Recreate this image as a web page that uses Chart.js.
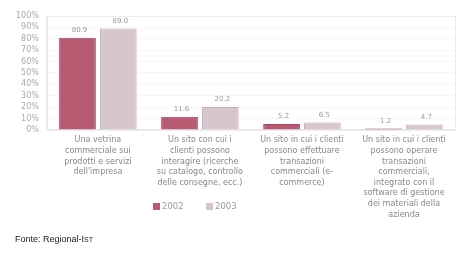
<!DOCTYPE html>
<html><head><meta charset="utf-8">
<script src="https://cdn.jsdelivr.net/npm/chart.js@4/dist/chart.umd.min.js"></script>
<style>
html,body{margin:0;padding:0;background:#fff;}
#wrap{position:relative;width:474px;height:260px;}
#c{position:absolute;left:0;top:0;}
.leg{position:absolute;top:201px;font:8.5px "DejaVu Sans",sans-serif;color:#999;}
.sw{display:inline-block;width:7px;height:7px;margin-right:2px;vertical-align:-1px;}
#src{position:absolute;left:15px;top:234px;font:9px "Liberation Sans",Arial,sans-serif;color:#222;}
</style></head><body>
<div id="wrap">
<canvas id="c" width="474" height="225"></canvas>
<div class="leg" style="left:153px"><span class="sw" style="background:#b85a72"></span>2002</div>
<div class="leg" style="left:206px"><span class="sw" style="background:#d8c6ce"></span>2003</div>
<div id="src">Fonte: Regional-I<span style="font-size:7px">ST</span></div>
</div>
<script>
const categories = [
  ["Una vetrina", "commerciale sui", "prodotti e servizi", "dell'impresa"],
  ["Un sito con cui i", "clienti possono", "interagire (ricerche", "su catalogo, controllo", "delle consegne, ecc.)"],
  ["Un sito in cui i clienti", "possono effettuare", "transazioni", "commerciali (e-", "commerce)"],
  ["Un sito in cui i clienti", "possono operare", "transazioni", "commerciali,", "integrato con il", "software di gestione", "dei materiali della", "azienda"]
];
const series2002 = [80.9, 11.6, 5.2, 1.2];
const series2003 = [89.0, 20.2, 6.5, 4.7];
const seriesNames = ["2002", "2003"];

const valueLabels = {
  id: 'valueLabels',
  afterDatasetsDraw(chart) {
    const ctx = chart.ctx;
    ctx.save();
    ctx.font = '7px "DejaVu Sans", sans-serif';
    ctx.fillStyle = '#999';
    ctx.textAlign = 'center';
    ctx.textBaseline = 'bottom';
    chart.data.datasets.forEach((ds, i) => {
      chart.getDatasetMeta(i).data.forEach((bar, j) => {
        ctx.fillText(ds.data[j].toFixed(1), bar.x + 2, bar.y - 4);
      });
    });
    ctx.restore();
  }
};

const plotBox = {
  id: 'plotBox',
  beforeDatasetsDraw(chart) {
    const a = chart.chartArea, ctx = chart.ctx;
    ctx.save();
    ctx.strokeStyle = '#ececec';
    ctx.lineWidth = 1;
    ctx.strokeRect(Math.round(a.left) + 0.5, Math.round(a.top) + 0.5, Math.round(a.right - a.left), Math.round(a.bottom - a.top));
    ctx.restore();
  }
};

new Chart(document.getElementById('c'), {
  type: 'bar',
  data: {
    labels: categories,
    datasets: [
      { label: seriesNames[0], data: series2002, backgroundColor: '#b85a72', borderColor: '#9a4a5e', borderWidth: 1 },
      { label: seriesNames[1], data: series2003, backgroundColor: '#d8c6ce', borderColor: '#c4b0b9', borderWidth: 1 }
    ]
  },
  options: {
    responsive: false,
    animation: false,
    layout: { padding: { left: 8, right: 19, top: 16, bottom: 0 } },
    plugins: { legend: { display: false }, tooltip: { enabled: false } },
    scales: {
      x: {
        grid: { display: false, drawTicks: false },
        border: { color: '#e6e6e6' },
        ticks: { color: '#888', font: { size: 8, family: '"DejaVu Sans", sans-serif', lineHeight: 1.33 }, padding: 5, maxRotation: 0, autoSkip: false },
        categoryPercentage: 0.72,
        barPercentage: 1.0
      },
      y: {
        min: 0, max: 100,
        grid: { color: '#f7f7f7', drawTicks: false },
        border: { color: '#e6e6e6' },
        ticks: { stepSize: 10, autoSkip: false, color: '#aaa', padding: 8, font: { size: 8, family: '"DejaVu Sans", sans-serif' }, callback: v => v + '%' }
      }
    }
  },
  plugins: [valueLabels, plotBox]
});
</script>
</body></html>
